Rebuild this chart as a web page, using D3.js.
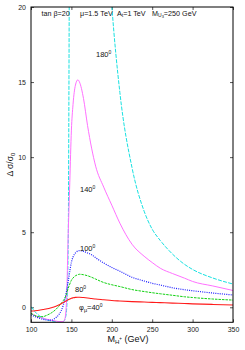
<!DOCTYPE html>
<html>
<head>
<meta charset="utf-8">
<script src="https://cdn.jsdelivr.net/npm/d3@7"></script>
<style>
  body { margin: 0; background: #fff; }
  svg text { font-family: "Liberation Sans", Arial, sans-serif; fill: #111; }
  .tick text { font-size: 7px; fill: #222; }
  .tick line { stroke: #555; stroke-width: 1; }
</style>
</head>
<body>
<div id="chart"></div>
<script>

// Charged Higgs mass (GeV)
var masses = [100,105,110,115,120,125,130,135,140,142,144,146,148,150,152,155,158,160,165,170,175,180,190,200,210,225,240,250,260,275,290,300,325,350];

// Delta sigma / sigma_0 for each phase phi_mu
var phi40  = [-0.25,-0.23,-0.2,-0.15,-0.1,-0.03,0.05,0.17,0.32,0.38,0.44,0.5,0.55,0.6,0.63,0.66,0.67,0.67,0.65,0.62,0.58,0.55,0.5,0.45,0.42,0.38,0.35,0.33,0.31,0.28,0.25,0.23,0.19,0.15];
var phi80  = [-0.4,-0.55,-0.63,-0.62,-0.52,-0.38,-0.18,0.1,0.45,0.62,0.9,1.25,1.55,1.8,1.95,2.1,2.17,2.2,2.17,2.1,2.0,1.88,1.65,1.5,1.38,1.18,1.05,0.97,0.9,0.8,0.7,0.65,0.55,0.48];
var phi100 = [-0.5,-0.62,-0.72,-0.8,-0.85,-0.86,-0.72,-0.45,0.15,0.55,1.1,1.7,2.4,3.0,3.35,3.62,3.75,3.77,3.72,3.62,3.5,3.3,2.95,2.65,2.4,2.0,1.75,1.6,1.48,1.3,1.17,1.1,0.95,0.82];
var phi140 = [-0.4,-0.55,-0.65,-0.73,-0.8,-0.86,-0.91,-0.95,-0.95,-0.75,0.5,4.8,8.3,11.8,13.5,14.8,15.15,15.0,13.9,12.1,10.6,9.4,8.0,6.8,5.6,4.2,3.4,2.98,2.6,2.25,1.94,1.72,1.42,1.12];
var phi180 = [0.05,-0.3,-0.55,-0.72,-0.84,-0.91,-0.95,-0.97,-0.95,-0.8,-0.2,4,30,45,55,60,62,62,60,55,48,40,29,20.1,14.3,9.3,6.4,5.2,4.45,3.55,2.86,2.52,1.95,1.55];

var xTicks = [100,150,200,250,300,350];
var yTicks = [0,5,10,15,20];

var series = [
  { values: phi180, color: "#19e0e0", dash: "4,1.3", width: 1 },
  { values: phi140, color: "#ff70ff", dash: null, width: 1 },
  { values: phi100, color: "#1a1aff", dash: "1,1.2", width: 1.2 },
  { values: phi80,  color: "#11d011", dash: "2.5,1", width: 1 },
  { values: phi40,  color: "#ff1a1a", dash: null, width: 1.1 }
];

var ChartVis = function(_parentElement){
  var vis = this;
  vis.parentElement = _parentElement;
  vis.initVis();
};

ChartVis.prototype.initVis = function(){
  var vis = this;

  vis.margin = { top: 7, right: 12, bottom: 27.7, left: 31 };
  vis.width = 245 - vis.margin.left - vis.margin.right;
  vis.height = 350 - vis.margin.top - vis.margin.bottom;

  vis.svg = d3.select("#" + vis.parentElement).append("svg")
    .attr("width", 245)
    .attr("height", 350)
    .append("g")
    .attr("transform", "translate(" + vis.margin.left + "," + vis.margin.top + ")");

  vis.x = d3.scaleLinear().domain([100, 350]).range([0, vis.width]);
  vis.y = d3.scaleLinear().domain([-1, 20]).range([vis.height, 0]);

  vis.svg.append("clipPath").attr("id", "plot-clip")
    .append("rect")
    .attr("width", vis.width)
    .attr("height", vis.height);

  vis.updateVis();
};

ChartVis.prototype.updateVis = function(){
  var vis = this;

  // axes, ticks pointing inwards on all four sides
  vis.svg.append("g")
    .attr("transform", "translate(0," + vis.height + ")")
    .call(d3.axisBottom(vis.x).tickValues(xTicks).tickSize(-3).tickPadding(5))
    .call(function(g){ g.select(".domain").remove(); });

  vis.svg.append("g")
    .call(d3.axisTop(vis.x).tickValues(xTicks).tickSize(-3).tickFormat(""))
    .call(function(g){ g.select(".domain").remove(); });

  vis.svg.append("g")
    .call(d3.axisLeft(vis.y).tickValues(yTicks).tickSize(-3).tickPadding(5))
    .call(function(g){ g.select(".domain").remove(); });

  vis.svg.append("g")
    .attr("transform", "translate(" + vis.width + ",0)")
    .call(d3.axisRight(vis.y).tickValues(yTicks).tickSize(-3).tickFormat(""))
    .call(function(g){ g.select(".domain").remove(); });

  var line = d3.line()
    .x(function(d, i){ return vis.x(masses[i]); })
    .y(function(d){ return vis.y(d); })
    .curve(d3.curveMonotoneX);

  vis.svg.append("g")
    .attr("clip-path", "url(#plot-clip)")
    .selectAll(".curve")
    .data(series)
    .enter().append("path")
    .attr("class", "curve")
    .attr("fill", "none")
    .attr("stroke", function(d){ return d.color; })
    .attr("stroke-width", function(d){ return d.width; })
    .attr("stroke-dasharray", function(d){ return d.dash; })
    .attr("d", function(d){ return line(d.values); });

  vis.svg.append("rect")
    .attr("width", vis.width)
    .attr("height", vis.height)
    .attr("fill", "none")
    .attr("stroke", "#000")
    .attr("stroke-width", 1);

  // parameter line at the top
  var t1 = vis.svg.append("text").attr("x", 10.5).attr("y", 8.7).attr("font-size", 7.2);
  t1.text("tan \u03b2=20");

  var t2 = vis.svg.append("text").attr("x", 49).attr("y", 8.7).attr("font-size", 7.2);
  t2.text("\u03bc=1.5 TeV");

  var t3 = vis.svg.append("text").attr("x", 86).attr("y", 8.7).attr("font-size", 7.2);
  t3.append("tspan").text("A");
  t3.append("tspan").attr("font-size", 5).attr("dy", 1.5).text("t");
  t3.append("tspan").attr("dy", -1.5).text("=1 TeV");

  var t4 = vis.svg.append("text").attr("x", 121).attr("y", 8.7).attr("font-size", 7.2);
  t4.append("tspan").text("M");
  t4.append("tspan").attr("font-size", 5).attr("dy", 1.5).text("U");
  t4.append("tspan").attr("font-size", 4).attr("dy", 1).text("3");
  t4.append("tspan").attr("dy", -2.5).text("=250 GeV");

  // curve labels
  var labels = [
    { pre: "", sub: "", text: "180", x: 65, y: 50 },
    { pre: "", sub: "", text: "140", x: 49, y: 184.7 },
    { pre: "", sub: "", text: "100", x: 49, y: 243.7 },
    { pre: "", sub: "", text: "80", x: 44, y: 285 },
    { pre: "\u03c6", sub: "\u03bc", text: "=40", x: 48, y: 303 }
  ];
  labels.forEach(function(l){
    var t = vis.svg.append("text")
      .attr("x", l.x)
      .attr("y", l.y)
      .attr("font-size", 7.5);
    if (l.pre) {
      t.append("tspan").text(l.pre);
      t.append("tspan").attr("font-size", 5.5).attr("dy", 1.5).text(l.sub);
      t.append("tspan").attr("dy", -1.5).text(l.text);
    }
    else {
      t.append("tspan").text(l.text);
    }
    t.append("tspan").attr("font-size", 5).attr("dy", -3).text("0");
  });

  // axis titles
  var yl = vis.svg.append("text")
    .attr("text-anchor", "middle")
    .attr("font-size", 8.5)
    .attr("transform", "translate(-18," + (vis.height / 2) + ")rotate(-90)");
  yl.append("tspan").text("\u0394 \u03c3/\u03c3");
  yl.append("tspan").attr("font-size", 6).attr("dy", 2).text("0");

  var xl = vis.svg.append("text")
    .attr("text-anchor", "middle")
    .attr("font-size", 9)
    .attr("x", vis.width / 2 - 4)
    .attr("y", vis.height + 19.5);
  xl.append("tspan").text("M");
  xl.append("tspan").attr("font-size", 6).attr("dy", 2).text("H");
  xl.append("tspan").attr("font-size", 4.5).attr("dy", -4).text("+");
  xl.append("tspan").attr("dy", 2).text(" (GeV)");
};

new ChartVis("chart");

</script>
</body>
</html>
